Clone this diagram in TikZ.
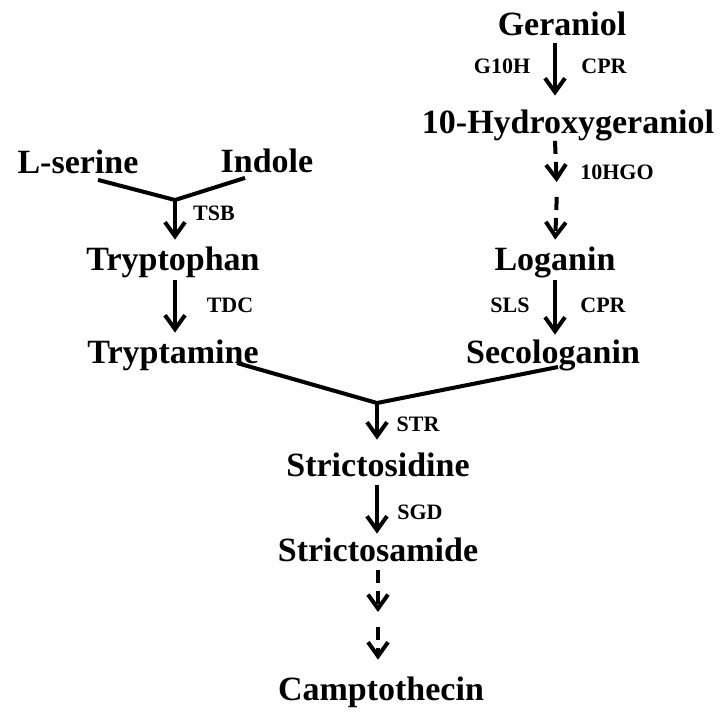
\documentclass[tikz,border=0pt]{standalone}
\usepackage{fontspec}
\setmainfont{Liberation Serif}
\usetikzlibrary{arrows.meta,calc}
\begin{document}
\begin{tikzpicture}[x=0.5pt, y=-0.5pt,
  cpd/.style={inner sep=0pt, anchor=base, font=\fontsize{17}{20}\selectfont\bfseries, text height=12pt, text depth=3.75pt},
  enz/.style={inner sep=0pt, font=\fontsize{11}{13}\selectfont\bfseries},
  rx/.style={-{Straight Barb[length=7pt,width=10pt]}, line width=2pt},
  dashrx/.style={rx, dash pattern=on 6.5pt off 4pt},
  merge/.style={line width=2pt}]
\useasboundingbox (0,0) rectangle (723,713);

\node[cpd] (ger) at (562,35) {Geraniol};
\node[cpd] (hyd) at (568,133) {10-Hydroxygeraniol};
\node[cpd] (log) at (555,270) {Loganin};
\node[cpd] (seco) at (553,363) {Secologanin};
\node[cpd] (lser) at (78,173) {L-serine};
\node[cpd] (ind) at (267,172) {Indole};
\node[cpd] (tryp) at (173,270) {Tryptophan};
\node[cpd] (tryt) at (173,363) {Tryptamine};
\node[cpd] (stri) at (378,476) {Strictosidine};
\node[cpd] (stra) at (378,561) {Strictosamide};
\node[cpd] (camp) at (381,700) {Camptothecin};

\node[enz] (g10h) at (502,66) {G10H};
\node[enz] (cpr1) at (604,66) {CPR};
\node[enz] (hgo) at (617,172) {10HGO};
\node[enz] (sls) at (510,305) {SLS};
\node[enz] (cpr2) at (603,305) {CPR};
\node[enz] (tsb) at (214,213) {TSB};
\node[enz] (tdc) at (230,305) {TDC};
\node[enz] (str) at (418,424) {STR};
\node[enz] (sgd) at (420,512) {SGD};

\coordinate (j1) at (175,200);
\coordinate (j2) at (377,403);
\coordinate (m1) at (557,190);
\coordinate (m2) at (378,620);

\draw[rx, shorten >=6.5pt] (ger.south -| log.north) -- (hyd.north -| log.north);
\draw[dashrx, shorten >=4pt] (hyd.south -| log.north) -- (m1);
\draw[dashrx, shorten <=3.5pt, shorten >=3pt] (m1) -- (log.north);
\draw[rx, shorten <=1.25pt, shorten >=2pt] (log.south) -- (seco.north -| log.south);

\draw[merge] ($(lser.south)+(20,-1)$) -- (j1) -- ($(ind.south)+(-22,-2)$);
\draw[rx, shorten >=3pt] (j1) -- (j1 |- tryp.north);
\draw[rx, shorten <=1.25pt, shorten >=3pt] (tryp.south -| j1) -- (tryt.north -| j1);

\draw[merge] ($(tryt.base east)+(-22,0)$) -- (j2) -- ($(seco.base)+(5,4)$);
\draw[rx, shorten >=6pt] (j2) -- (j2 |- stri.north);
\draw[rx, shorten <=0.75pt, shorten >=1.5pt] (stri.south -| j2) -- (stra.north -| j2);
\draw[dashrx, shorten <=0.75pt, shorten >=4pt] (stra.south) -- (m2);
\draw[dashrx, shorten <=3.5pt, shorten >=8pt] (m2) -- (camp.north -| m2);
\end{tikzpicture}
\end{document}
